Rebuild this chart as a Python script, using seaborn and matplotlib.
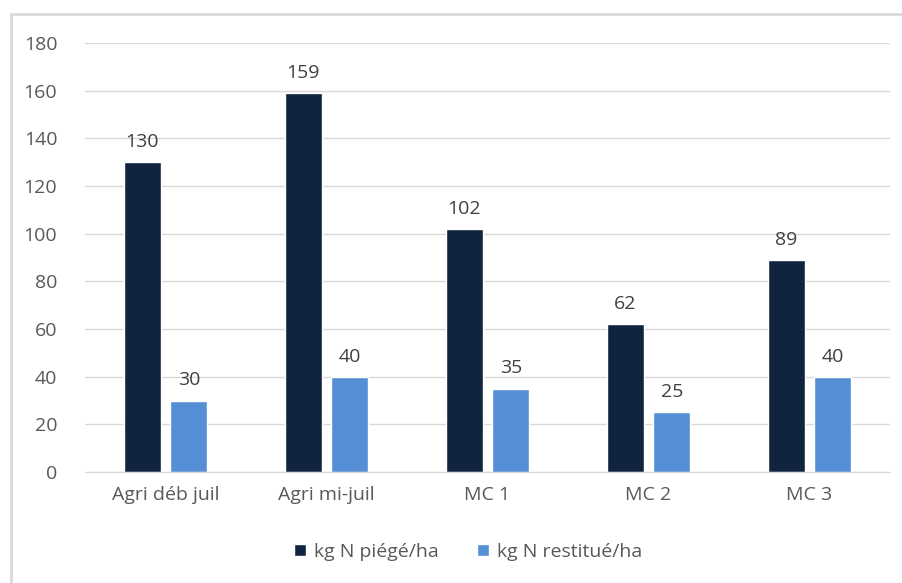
import matplotlib
matplotlib.use("Agg")
import matplotlib.pyplot as plt
import numpy as np
import pandas as pd
import seaborn as sns
from matplotlib.patches import Rectangle

## Data
categories = ['Agri déb juil', 'Agri mi-juil', 'MC 1', 'MC 2', 'MC 3']
n_piege = [130, 159, 102, 62, 89]
n_restitue = [30, 40, 35, 25, 40]
series = ['kg N piégé/ha', 'kg N restitué/ha']
colors = ['#10243F', '#558ED5']
yticks = [0, 20, 40, 60, 80, 100, 120, 140, 160, 180]

df = pd.DataFrame({
    'cat': categories * 2,
    'val': n_piege + n_restitue,
    'serie': [series[0]] * len(categories) + [series[1]] * len(categories),
})

sns.set_style('white')
plt.rcParams['font.family'] = ['Open Sans', 'DejaVu Sans']
text_col = '#595959'
fs = 14

fig = plt.figure(figsize=(9.03, 5.83), dpi=100)
ax = fig.add_axes([85 / 903, 1 - 472 / 583, 805 / 903, 429 / 583])

sns.barplot(data=df, x='cat', y='val', hue='serie', palette=colors,
            width=0.578, gap=0.2, ax=ax, legend=True, saturation=1)

ax.set_ylim(0, 180)
ax.set_xlim(-0.5, len(categories) - 0.5)
ax.set_yticks(yticks)
ax.yaxis.grid(True, color='#D9D9D9', linewidth=1)
ax.set_axisbelow(True)
for side in ['top', 'right', 'left']:
    ax.spines[side].set_visible(False)
ax.spines['bottom'].set_color('#D9D9D9')
ax.tick_params(axis='both', length=0, labelsize=fs, colors=text_col)
ax.tick_params(axis='x', pad=10)
ax.tick_params(axis='y', pad=20)
ax.set_xlabel('')
ax.set_ylabel('')

for cont in ax.containers:
    ax.bar_label(cont, padding=8, fontsize=fs, color='#404040')

handles, labels = ax.get_legend_handles_labels()
ax.legend(handles, labels, loc='center', bbox_to_anchor=(0.476, -0.186),
          ncol=2, frameon=False, fontsize=fs, handlelength=0.6, handleheight=0.6,
          columnspacing=2.0, handletextpad=0.4, labelcolor=text_col)

# chart frame (only top and left edge visible in the crop)
fig.patches.append(Rectangle((11 / 903, -0.1), 1.2, 1 - 14 / 583 + 0.1,
                             transform=fig.transFigure, fill=False,
                             edgecolor='#D9D9D9', linewidth=2))

fig.savefig('out.png', dpi=100)
